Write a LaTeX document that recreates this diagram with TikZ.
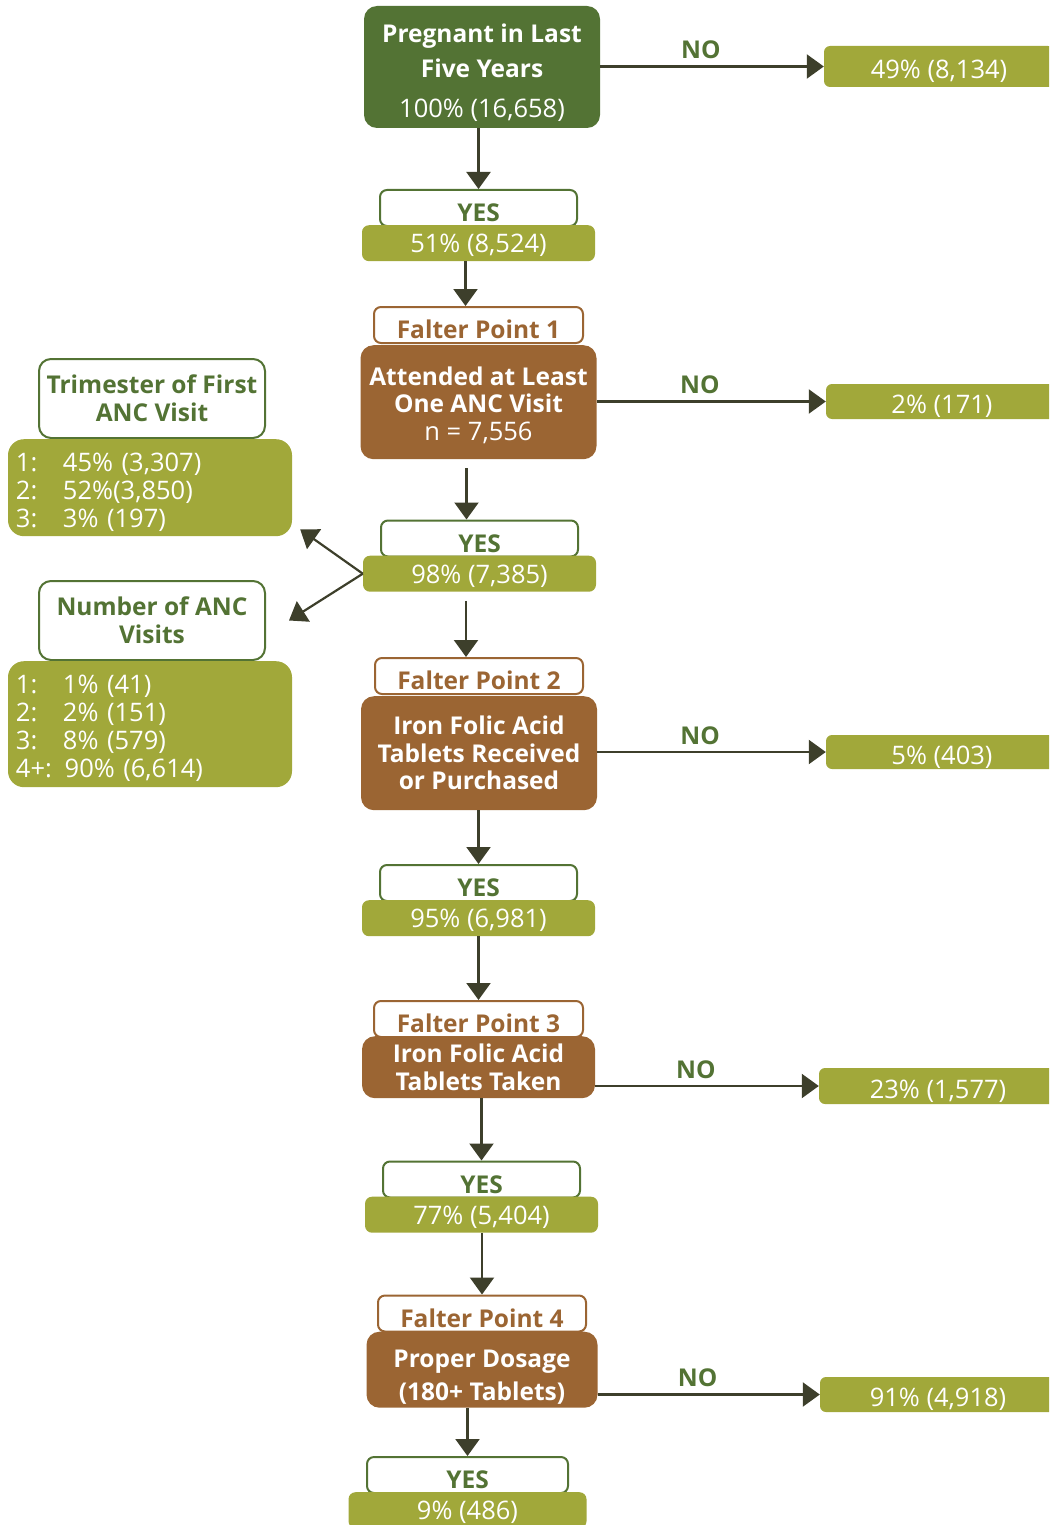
\documentclass[tikz,border=0pt]{standalone}
\usepackage{fontspec}
\setmainfont{Open Sans}
\usetikzlibrary{positioning,arrows.meta}
\definecolor{fpgreen}{HTML}{537334}
\definecolor{fpolive}{HTML}{A1A83A}
\definecolor{fpbrown}{HTML}{9B6533}
\definecolor{fparrow}{HTML}{3D3F2B}
\newcommand{\Row}[2]{\makebox[47pt][l]{#1}#2}
\newcommand{\BoxFont}{\fontsize{24.5}{28}\selectfont}
\newcommand{\NumFont}{\fontsize{25.5}{28}\selectfont}

\begin{document}
\begin{tikzpicture}[x=1pt,y=-1pt,font=\BoxFont]
  \tikzstyle{filled}=[rectangle, rounded corners=13pt, inner sep=0pt, align=center, text=white]
  \tikzstyle{topbox}=[filled, fill=fpgreen, font=\bfseries\fontsize{24.5}{35}\selectfont]
  \tikzstyle{olivebox}=[filled, fill=fpolive, rounded corners=7pt, minimum width=233pt, minimum height=36pt,
    font=\NumFont, text height=22pt, text depth=3pt]
  \tikzstyle{brownbox}=[filled, fill=fpbrown, minimum width=236pt, font=\bfseries\fontsize{24.5}{27.5}\selectfont]
  \tikzstyle{head}=[rectangle, rounded corners=7pt, inner sep=0pt, fill=white, line width=2pt,
    minimum height=36pt, font=\bfseries\BoxFont]
  \tikzstyle{yeshead}=[head, draw=fpgreen, text=fpgreen, minimum width=197pt, text height=27pt, text depth=0pt]
  \tikzstyle{falterhead}=[head, draw=fpbrown, text=fpbrown, minimum width=209pt, text height=27pt, text depth=0pt]
  \tikzstyle{sidehead}=[head, draw=fpgreen, text=fpgreen, rounded corners=12pt, align=center,
    minimum width=226pt, minimum height=79pt]
  \tikzstyle{sidebox}=[filled, fill=fpolive, rounded corners=16pt, align=left, text width=268pt,
    inner xsep=8pt, minimum width=284pt, font=\NumFont]
  \tikzstyle{nobox}=[filled, fill=fpolive, rounded corners=6pt, minimum width=232pt, minimum height=35pt,
    font=\NumFont, text height=25pt, text depth=1pt]
  \tikzstyle{flow}=[draw=fparrow, line width=2.2pt, -{Triangle[width=24pt,length=17pt]}]
  \tikzstyle{nolabel}=[pos=0.45, above=3pt, text=fpgreen, font=\bfseries\BoxFont]
  \useasboundingbox (0,0) rectangle (1049,1525);
  \clip (0,0) rectangle (1049,1525);

  % main column
  \draw (482,67) node (preg) [topbox, minimum width=236pt, minimum height=122pt]
    {\rule{0pt}{30pt}Pregnant in Last\\Five Years\\[5pt]\mdseries\NumFont 100\% (16,658)};
  \draw (478.5,208) node (yes1h) [yeshead] {YES}
    node (yes1) [olivebox, below=-2pt of yes1h] {51\% (8,524)};
  \draw (478.5,325) node (fp1h) [falterhead] {Falter Point 1}
    node (fp1) [brownbox, below=1pt of fp1h, minimum height=114pt]
    {\rule{0pt}{24pt}Attended at Least\\One ANC Visit\\\mdseries\NumFont n = 7,556};
  \draw (479.5,538.5) node (yes2h) [yeshead] {YES}
    node (yes2) [olivebox, below=-2pt of yes2h] {98\% (7,385)};
  \draw (479,676) node (fp2h) [falterhead, minimum width=208pt] {Falter Point 2}
    node (fp2) [brownbox, below=1pt of fp2h, minimum height=114pt]
    {Iron Folic Acid\\Tablets Received\\or Purchased};
  \draw (478.5,883) node (yes3h) [yeshead] {YES}
    node (yes3) [olivebox, below=-2pt of yes3h] {95\% (6,981)};
  \draw (478.5,1019) node (fp3h) [falterhead] {Falter Point 3}
    node (fp3) [brownbox, below=-2pt of fp3h, minimum width=233pt, minimum height=62pt]
    {Iron Folic Acid\\Tablets Taken};
  \draw (481.5,1179.5) node (yes4h) [yeshead] {YES}
    node (yes4) [olivebox, below=-2pt of yes4h] {77\% (5,404)};
  \draw (482,1313.5) node (fp4h) [falterhead, minimum width=208pt] {Falter Point 4}
    node (fp4) [brownbox, below=-1pt of fp4h, minimum width=231pt, minimum height=76pt]
    {\rule{0pt}{32pt}Proper Dosage\\[6pt](180+ Tablets)};
  \draw (467.5,1475) node (yes5h) [yeshead, minimum width=201pt] {YES}
    node (yes5) [olivebox, below=-2pt of yes5h, minimum width=238pt] {9\% (486)};

  % right column
  \draw (939,66.5) node (no1) [nobox, minimum width=230pt, minimum height=41pt] {49\% (8,134)};
  \draw (942,401.5) node (no2) [nobox] {2\% (171)};
  \draw (942,752) node (no3) [nobox, minimum height=34pt] {5\% (403)};
  \draw (938,1086) node (no4) [nobox, minimum width=238pt, minimum height=36pt] {23\% (1,577)};
  \draw (938,1394.5) node (no5) [nobox, minimum width=236pt] {91\% (4,918)};

  % left column
  \draw (152,398.5) node (trih) [sidehead] {Trimester of First\\ANC Visit}
    node (tri) [sidebox, below=0pt of trih, xshift=-2pt, minimum height=97pt]
    {\rule{0pt}{27pt}\Row{1:}{45\% (3,307)}\\\Row{2:}{52\%(3,850)}\\\Row{3:}{3\% (197)}};
  \draw (152,620.5) node (numh) [sidehead] {Number of ANC\\Visits}
    node (num) [sidebox, below=0pt of numh, xshift=-2pt, minimum height=126pt]
    {\rule{0pt}{27pt}\Row{1:}{1\% (41)}\\\Row{2:}{2\% (151)}\\\Row{3:}{8\% (579)}\\4+: 90\% (6,614)};

  % arrows down
  \draw [flow] (preg.south -| yes1h.north) -- (yes1h.north);
  \draw [flow] ([xshift=-13pt]fp1h.north |- yes1.south) -- ([xshift=-13pt]fp1h.north);
  \draw [flow, shorten <=9pt] ([xshift=-13pt]yes2h.north |- fp1.south) -- ([xshift=-13pt]yes2h.north);
  \draw [flow, shorten <=9pt] ([xshift=-13pt]fp2h.north |- yes2.south) -- ([xshift=-13pt]fp2h.north);
  \draw [flow] (fp2.south -| yes3h.north) -- (yes3h.north);
  \draw [flow] (yes3.south -| fp3h.north) -- (fp3h.north);
  \draw [flow] (fp3.south -| yes4h.north) -- (yes4h.north);
  \draw [flow] (yes4.south -| fp4h.north) -- (fp4h.north);
  \draw [flow] (fp4.south -| yes5h.north) -- (yes5h.north);

  % arrows right
  \draw [flow] (preg.east |- no1.west) -- (no1.west) node [nolabel] {NO};
  \draw [flow] (fp1.east |- no2.west) -- (no2.west) node [nolabel] {NO};
  \draw [flow] (fp2.east |- no3.west) -- (no3.west) node [nolabel] {NO};
  \draw [flow] (fp3.east |- no4.west) -- (no4.west) node [nolabel] {NO};
  \draw [flow] (fp4.east |- no5.west) -- (no5.west) node [nolabel] {NO};

  % arrows left
  \draw [flow] (yes2.west) -- ([xshift=8pt, yshift=7pt]tri.south east);
  \draw [flow] (yes2.west) -- ([xshift=23pt]numh.east);
\end{tikzpicture}
\end{document}
